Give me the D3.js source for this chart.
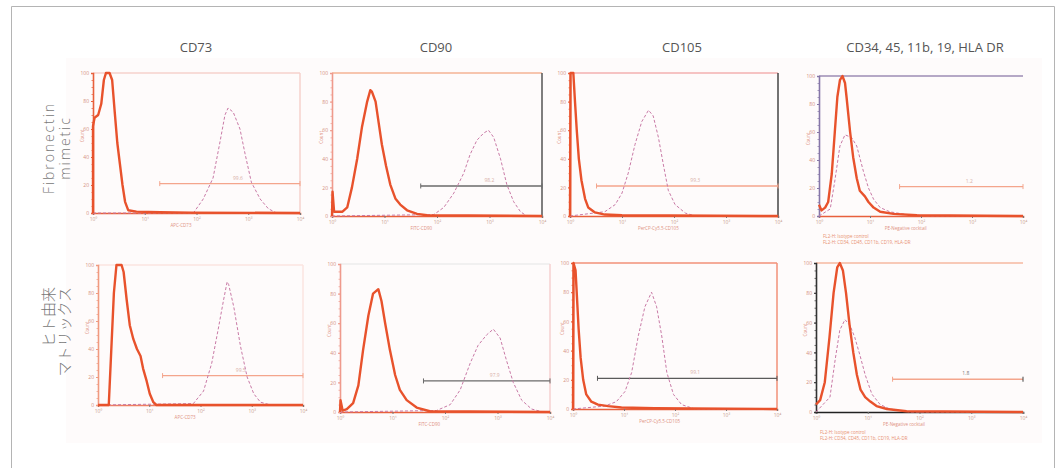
<!DOCTYPE html>
<html>

<head>
    <meta charset="utf-8">
    <title>MSC marker flow cytometry</title>
    <script src="https://d3js.org/d3.v7.min.js"></script>
    <style>
        body {
            margin: 0;
            background: white;
        }

        .tick text {
            font-family: "Open Sans", sans-serif;
        }
    </style>
</head>

<body>
    <div id="chart"></div>

    <script>
        // column / row headings
        const columns = ["CD73", "CD90", "CD105", "CD34, 45, 11b, 19, HLA DR"];
        const rows = [["Fibronectin", "mimetic"], ["ヒト由来", "マトリックス"]];

        // x ticks in decades (10^0 .. 10^4), y as % of full scale
        const decades = [0, 1, 2, 3, 4];
        const countTicks = [0, 20, 40, 60, 80, 100];

        // [decade, % of max]
        // solid = control, dashed = stained sample
        const cd73FnSolid = [[0, 0], [0, 62], [0.03, 68], [0.1, 70], [0.16, 78], [0.21, 95], [0.25, 100], [0.32, 100], [0.37, 95], [0.42, 72], [0.47, 50], [0.52, 35], [0.57, 20], [0.62, 8], [0.68, 2], [0.84, 1], [1.3, 0.5], [1.9, 0.3], [4, 0]];
        const cd73FnDashed = [[0, 0], [1.94, 0], [2.13, 10], [2.32, 25], [2.45, 50], [2.55, 70], [2.61, 75], [2.71, 72], [2.84, 60], [2.94, 42], [3.06, 22], [3.23, 10], [3.39, 3], [3.55, 0], [4, 0]];
        const cd90FnSolid = [[0, 0], [0.01, 17], [0.04, 3], [0.2, 3], [0.29, 6], [0.38, 20], [0.48, 40], [0.57, 62], [0.67, 80], [0.73, 88], [0.76, 87], [0.83, 80], [0.89, 65], [0.95, 50], [1.03, 35], [1.11, 22], [1.21, 12], [1.3, 8], [1.43, 4], [1.62, 1.5], [1.81, 0.5], [4, 0]];
        const cd90FnDashed = [[0, 0], [1.94, 1], [2.13, 6], [2.32, 16], [2.51, 30], [2.63, 43], [2.76, 53], [2.89, 58], [2.98, 60], [3.08, 55], [3.21, 40], [3.33, 22], [3.46, 10], [3.59, 3], [3.71, 0], [4, 0]];
        const cd105FnSolid = [[0, 0], [0.01, 100], [0.064, 100], [0.096, 80], [0.13, 60], [0.17, 40], [0.22, 25], [0.29, 12], [0.35, 6], [0.48, 2.5], [0.67, 1], [1.0, 0.5], [4, 0]];
        const cd105FnDashed = [[0, 0], [0.67, 3], [0.87, 8], [1.0, 16], [1.12, 30], [1.25, 50], [1.38, 66], [1.51, 74], [1.6, 70], [1.7, 55], [1.8, 35], [1.89, 18], [2.02, 8], [2.22, 2], [2.41, 0], [4, 0]];
        const negFnSolid = [[0, 8], [0.05, 4], [0.12, 6], [0.18, 10], [0.25, 30], [0.31, 60], [0.36, 85], [0.41, 97], [0.46, 100], [0.51, 95], [0.54, 85], [0.61, 60], [0.67, 42], [0.74, 27], [0.8, 18], [0.9, 14], [0.97, 10], [1.07, 6], [1.2, 3], [1.46, 1.5], [1.92, 0.5], [4, 0]];
        const negFnDashed = [[0, 0], [0.22, 5], [0.31, 25], [0.41, 50], [0.51, 58], [0.64, 56], [0.74, 50], [0.87, 32], [0.97, 20], [1.07, 12], [1.2, 6], [1.39, 3], [1.72, 1], [2.2, 0], [4, 0]];

        const cd73HmSolid = [[0, 0], [0.21, 0], [0.26, 40], [0.31, 80], [0.36, 100], [0.46, 100], [0.5, 95], [0.56, 75], [0.62, 57], [0.69, 47], [0.76, 40], [0.83, 35], [0.88, 26], [0.95, 17], [1.01, 8], [1.08, 2], [1.14, 0], [4, 0]];
        const cd73HmDashed = [[0, 0], [1.86, 1], [2.06, 10], [2.22, 30], [2.35, 55], [2.45, 75], [2.52, 88], [2.55, 86], [2.65, 70], [2.78, 42], [2.91, 20], [3.04, 8], [3.17, 2], [3.37, 0], [4, 0]];
        const cd90HmSolid = [[0, 0], [0.01, 8], [0.05, 1], [0.13, 2], [0.25, 6], [0.35, 18], [0.44, 42], [0.54, 65], [0.63, 80], [0.73, 83], [0.79, 75], [0.86, 60], [0.95, 42], [1.05, 25], [1.14, 15], [1.27, 8], [1.46, 3], [1.71, 0.5], [4, 0]];
        const cd90HmDashed = [[0, 0], [1.84, 1], [2.1, 5], [2.29, 15], [2.48, 33], [2.63, 45], [2.79, 52], [2.92, 56], [3.05, 50], [3.17, 35], [3.3, 20], [3.46, 8], [3.65, 2], [3.87, 0], [4, 0]];
        const cd105HmSolid = [[0, 0], [0.01, 100], [0.05, 95], [0.08, 75], [0.11, 55], [0.15, 35], [0.2, 20], [0.26, 10], [0.36, 5], [0.49, 3], [0.69, 2], [0.95, 1], [1.6, 0.5], [4, 0]];
        const cd105HmDashed = [[0, 0], [0.62, 2], [0.85, 5], [1.02, 12], [1.15, 25], [1.28, 50], [1.41, 70], [1.54, 80], [1.64, 70], [1.74, 50], [1.84, 25], [1.97, 10], [2.13, 3], [2.39, 0], [4, 0]];
        const negHmSolid = [[0, 5], [0.08, 8], [0.17, 20], [0.26, 50], [0.34, 80], [0.41, 97], [0.46, 100], [0.52, 95], [0.58, 80], [0.65, 58], [0.72, 40], [0.79, 25], [0.86, 15], [0.95, 10], [1.05, 7], [1.17, 4], [1.37, 2], [1.75, 0.5], [4, 0]];
        const negHmDashed = [[0, 0], [0.27, 10], [0.37, 35], [0.46, 55], [0.56, 62], [0.66, 58], [0.75, 50], [0.85, 38], [0.95, 25], [1.08, 12], [1.24, 5], [1.43, 2], [1.82, 0], [4, 0]];

        // marker gate: start decade (runs to 10^4), height in %, label
        const gateFrom = [1.29, 1.69, 0.51, 1.58, 1.26, 1.59, 0.48, 1.48];
        const gateLevel = [21, 21, 21, 21, 21, 21, 21, 22];
        const gateLabels = ["99.6", "98.2", "99.3", "1.2", "99.5", "97.9", "99.1", "1.8"];
        const xTitles = ["APC-CD73", "FITC-CD90", "PerCP-Cy5.5-CD105", "PE-Negative cocktail",
            "APC-CD73", "FITC-CD90", "PerCP-Cy5.5-CD105", "PE-Negative cocktail"];

        const solids = [cd73FnSolid, cd90FnSolid, cd105FnSolid, negFnSolid, cd73HmSolid, cd90HmSolid, cd105HmSolid, negHmSolid];
        const dashes = [cd73FnDashed, cd90FnDashed, cd105FnDashed, negFnDashed, cd73HmDashed, cd90HmDashed, cd105HmDashed, negHmDashed];

        // panel boxes and per-panel colours (layout only)
        const panels = [
            { l: 93, r: 300, t: 73, b: 213, yc: "#e8603c", xc: "#e8603c", top: "#f6d2cc", right: "#f6d2cc", gate: "#f4a58c" },
            { l: 332, r: 542, t: 73, b: 216, yc: "#ef9a8c", xc: "#e8603c", top: "#f5b394", right: "#555555", gate: "#6a6a6a" },
            { l: 570, r: 778, t: 73, b: 216, yc: "#e8603c", xc: "#e8603c", top: "#f3b0b0", right: "#444444", gate: "#f4a58c" },
            { l: 819, r: 1023, t: 76, b: 216, yc: "#8676a8", xc: "#e8603c", top: "#9c8cb4", right: null, gate: "#f4a58c" },
            { l: 98, r: 303, t: 265, b: 405, yc: "#f09a80", xc: "#ef7f62", top: "#fbe4e0", right: "#fbe4e0", gate: "#f4a58c" },
            { l: 340, r: 550, t: 264, b: 412, yc: "#ef9a8c", xc: "#e8603c", top: "#ececec", right: "#f6d0d0", gate: "#6a6a6a" },
            { l: 573, r: 777, t: 263, b: 409, yc: "#e8603c", xc: "#e8603c", top: "#f29078", right: "#f29078", gate: "#5a5a5a" },
            { l: 816, r: 1023, t: 263, b: 412, yc: "#333333", xc: "#222222", top: "#f6b8a0", right: null, gate: "#f4a58c" }
        ];

        const W = 1059, H = 468;
        const svg = d3.select("#chart").append("svg")
            .attr("width", W).attr("height", H);

        // faint backdrop behind the panels + outer frame
        svg.append("rect").attr("x", 66).attr("y", 58).attr("width", 976).attr("height", 385)
            .attr("fill", "#fefbfb");
        svg.append("path").attr("d", "M11.5,468 V6.5 H1054.5 V468")
            .attr("fill", "none").attr("stroke", "#b4b4b4").attr("stroke-width", 1);

        const colCenters = [196, 436, 682, 925];
        svg.selectAll(".coltitle").data(columns).enter().append("text")
            .attr("class", "coltitle")
            .attr("x", (d, i) => colCenters[i]).attr("y", 52)
            .attr("text-anchor", "middle")
            .style("font-family", "'Open Sans', sans-serif")
            .style("font-size", "13px").style("fill", "#555")
            .text(d => d);

        // row headings, rotated
        const rowAnchors = [148, 287];
        rows.forEach((lines, ri) => {
            const g = svg.append("g")
                .attr("transform", "translate(57," + rowAnchors[ri] + ") rotate(-90)");
            lines.forEach((txt, li) => {
                g.append("text")
                    .attr("x", 0).attr("y", (li - 0.5) * 16 + 5)
                    .attr("text-anchor", ri === 0 ? "middle" : "end")
                    .style("font-family", "'Open Sans', 'Noto Sans CJK JP', sans-serif")
                    .style("font-size", ri === 0 ? "14px" : "15px")
                    .style("letter-spacing", ri === 0 ? "1.9px" : "0px")
                    .style("font-weight", 300)
                    .style("fill", "#777")
                    .text(txt);
            });
        });

        const supers = "⁰¹²³⁴";

        panels.forEach((p, i) => {
            const x = d3.scaleLog().domain([1, 1e4]).range([p.l, p.r]);
            const y = d3.scaleLinear().domain([0, 100]).range([p.b, p.t]);
            const g = svg.append("g");

            // top & right frame
            g.append("line").attr("x1", p.l).attr("x2", p.r).attr("y1", p.t).attr("y2", p.t)
                .attr("stroke", p.top).attr("stroke-width", 1.5);
            if (p.right) {
                g.append("line").attr("x1", p.r).attr("x2", p.r).attr("y1", p.t).attr("y2", p.b)
                    .attr("stroke", p.right).attr("stroke-width", 1.5);
            }

            const xAxis = g.append("g").attr("transform", "translate(0," + p.b + ")")
                .call(d3.axisBottom(x).tickValues(decades.map(d => Math.pow(10, d)))
                    .tickFormat(d => "10" + supers[Math.round(Math.log10(d))])
                    .tickSize(2).tickPadding(2));
            xAxis.select(".domain").attr("stroke", p.xc).attr("stroke-width", 1.6);
            xAxis.selectAll(".tick line").attr("stroke", "#777");
            xAxis.selectAll(".tick text").style("font-size", "5px").style("fill", "#c8a090");

            const yAxis = g.append("g").attr("transform", "translate(" + p.l + ",0)")
                .call(d3.axisLeft(y).tickValues(countTicks).tickSize(2).tickPadding(2));
            yAxis.select(".domain").attr("stroke", p.yc).attr("stroke-width", 1.6);
            yAxis.selectAll(".tick line").attr("stroke", p.yc);
            yAxis.selectAll(".tick text").style("font-size", "5px").style("fill", "#d49080");

            // minor y ticks (dotted look of the axis)
            g.append("g").attr("transform", "translate(" + p.l + ",0)")
                .call(d3.axisLeft(y).ticks(25).tickSize(1.5).tickFormat(""))
                .call(a => a.select(".domain").remove())
                .selectAll("line").attr("stroke", p.yc).attr("opacity", 0.7);

            // axis titles
            g.append("text")
                .attr("x", x(Math.pow(10, 1.7))).attr("y", p.b + 14)
                .attr("text-anchor", "middle")
                .style("font-family", "'Open Sans', sans-serif")
                .style("font-size", "4.5px").style("fill", "#e09080")
                .text(xTitles[i]);
            g.append("text")
                .attr("transform", "translate(" + (p.l - 9) + "," + y(55) + ") rotate(-90)")
                .attr("text-anchor", "middle")
                .style("font-family", "'Open Sans', sans-serif")
                .style("font-size", "4.5px").style("fill", "#e09080")
                .text("Count");

            const line = d3.line()
                .x(d => x(Math.pow(10, d[0])))
                .y(d => y(d[1]));

            // gate
            const gy = y(gateLevel[i]);
            const gx0 = x(Math.pow(10, gateFrom[i])), gx1 = x(1e4);
            g.append("line").attr("x1", gx0).attr("x2", gx1).attr("y1", gy).attr("y2", gy)
                .attr("stroke", p.gate).attr("stroke-width", 1.4);
            [gx0, gx1].forEach(gx => {
                g.append("line").attr("x1", gx).attr("x2", gx).attr("y1", gy - 2.5).attr("y2", gy + 2.5)
                    .attr("stroke", i === 7 && gx === gx1 ? "#444" : p.gate).attr("stroke-width", 1);
            });
            g.append("text")
                .attr("x", (gx0 + gx1) / 2 + 8).attr("y", gy - 4)
                .attr("text-anchor", "middle")
                .style("font-family", "'Open Sans', sans-serif")
                .style("font-size", "5px").style("fill", i === 7 ? "#777" : "#d8b0a8")
                .text(gateLabels[i]);

            // stained sample (dashed)
            g.append("path").datum(dashes[i])
                .attr("d", line)
                .attr("fill", "none")
                .attr("stroke", "#c97aa6")
                .attr("stroke-width", 1)
                .attr("stroke-dasharray", "3,2");

            // control (solid)
            g.append("path").datum(solids[i])
                .attr("d", line)
                .attr("fill", "none")
                .attr("stroke", "#e8522c")
                .attr("stroke-width", 2.4)
                .attr("stroke-linejoin", "round");

            // tiny legend text under the negative-marker panels
            if (i % 4 === 3) {
                ["FL2-H: Isotype control", "FL2-H: CD34, CD45, CD11b, CD19, HLA-DR"].forEach((t, k) => {
                    g.append("text")
                        .attr("x", p.l + 4).attr("y", p.b + 22 + k * 6)
                        .style("font-family", "'Open Sans', sans-serif")
                        .style("font-size", "4.5px").style("fill", "#e89070")
                        .text(t);
                });
            }
        });
    </script>
</body>

</html>
